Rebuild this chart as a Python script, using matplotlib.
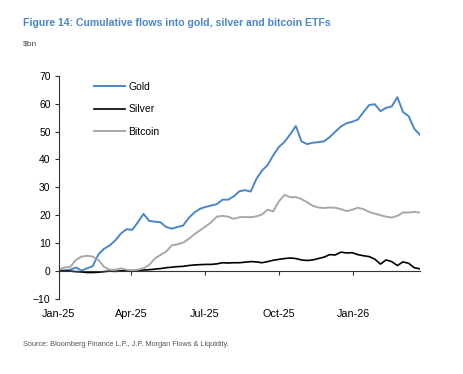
import numpy as np
import pandas as pd
import matplotlib
matplotlib.use("Agg")
import matplotlib.pyplot as plt

plt.rcParams['font.family'] = ['Liberation Sans', 'DejaVu Sans']

# weekly observations, Jan-25 to late Mar-26 ($bn, cumulative)
start_date = "2025-01-01"
n_weeks = 65

gold = [0, 0.3, 0.5, 1.3, 0.2, 1.0, 1.8, 6.0, 8.0, 9.2,
        11.0, 13.5, 15.0, 14.8, 17.5, 20.5, 18.0, 17.7, 17.5, 15.8,
        15.2, 15.8, 16.3, 19.0, 21.0, 22.3, 23.0, 23.5, 24.0, 25.6,
        25.6, 26.8, 28.6, 29.0, 28.5, 33.0, 36.0, 38.0, 41.5, 44.5,
        46.3, 49.0, 52.0, 46.5, 45.5, 46.0, 46.2, 46.5, 48.0, 50.0,
        51.8, 53.0, 53.5, 54.3, 57.0, 59.5, 59.8, 57.3, 58.5, 59.0,
        62.3, 57.0, 55.5, 51.0, 48.8]

silver = [0, 0, 0, -0.2, -0.3, -0.5, -0.5, -0.4, -0.2, 0,
          -0.1, 0.1, 0.2, 0.1, 0.3, 0.4, 0.5, 0.7, 0.9, 1.2,
          1.4, 1.6, 1.7, 2.0, 2.2, 2.3, 2.4, 2.4, 2.6, 3.0,
          2.9, 3.0, 3.0, 3.2, 3.4, 3.3, 3.0, 3.4, 3.9, 4.2,
          4.5, 4.7, 4.5, 4.0, 3.8, 4.0, 4.5, 5.0, 5.9, 5.8,
          6.8, 6.5, 6.6, 5.9, 5.5, 5.2, 4.3, 2.5, 4.0, 3.4,
          2.0, 3.3, 2.8, 1.2, 0.8]

bitcoin = [0.5, 1.3, 1.5, 4.0, 5.2, 5.5, 5.2, 4.0, 1.5, 0.5,
           0.5, 1.0, 0.5, 0.3, 0.5, 1.0, 2.2, 4.5, 5.8, 7.0,
           9.2, 9.6, 10.2, 11.5, 13.2, 14.6, 16.0, 17.5, 19.5, 19.8,
           19.5, 18.7, 19.3, 19.4, 19.3, 19.6, 20.3, 22.0, 21.4, 25.0,
           27.3, 26.5, 26.5, 25.8, 24.7, 23.4, 22.8, 22.6, 22.8, 22.7,
           22.2, 21.5, 22.0, 22.7, 22.2, 21.2, 20.6, 20.0, 19.5, 19.2,
           19.8, 21.0, 21.0, 21.2, 21.0]

tick_dates = ["2025-01-01", "2025-04-01", "2025-07-01", "2025-10-01", "2026-01-01"]
tick_labels = ["Jan-25", "Apr-25", "Jul-25", "Oct-25", "Jan-26"]

dates = pd.date_range(start_date, periods=n_weeks, freq="7D")

fig = plt.figure(figsize=(4.64, 3.74), dpi=100)
ax = fig.add_axes([0.127, 0.2005, 0.778, 0.597])

ax.plot(dates, gold, color="#4a86c8", lw=1.4, label="Gold")
ax.plot(dates, silver, color="black", lw=1.2, label="Silver")
ax.plot(dates, bitcoin, color="#a8a8a8", lw=1.4, label="Bitcoin")

ax.set_xlim(dates[0], dates[-1])
ax.set_ylim(-10, 70)
ax.set_yticks(np.arange(-10, 71, 10))
ax.set_xticks(pd.to_datetime(tick_dates))
ax.set_xticklabels(tick_labels)

for s in ["top", "right"]:
    ax.spines[s].set_visible(False)
ax.spines["bottom"].set_position(("data", 0))
ax.spines["left"].set_color("#333333")
ax.spines["bottom"].set_color("#333333")
ax.tick_params(axis="y", length=3, width=0.8, color="#333333", labelsize=7.5, pad=3)
ax.tick_params(axis="x", length=3, width=0.8, color="#333333", labelsize=7.8, pad=24)

leg = ax.legend(loc="upper left", bbox_to_anchor=(0.097, 0.972), frameon=False,
                fontsize=7.5, handlelength=3.0, handletextpad=0.3,
                labelspacing=1.2, borderaxespad=0, borderpad=0)

fig.text(23 / 464, 1 - 23 / 374, "Figure 14: Cumulative flows into gold, silver and bitcoin ETFs",
         color="#4a86c8", fontsize=7.6, fontweight="bold", va="center", ha="left")
fig.text(23 / 464, 1 - 44 / 374, "\\$bn", color="#444444", fontsize=6, va="center", ha="left")
fig.text(23 / 464, 1 - 345 / 374,
         "Source: Bloomberg Finance L.P., J.P. Morgan Flows & Liquidity.",
         color="#555555", fontsize=5.3, va="center", ha="left")

fig.savefig("out.png", dpi=100)
